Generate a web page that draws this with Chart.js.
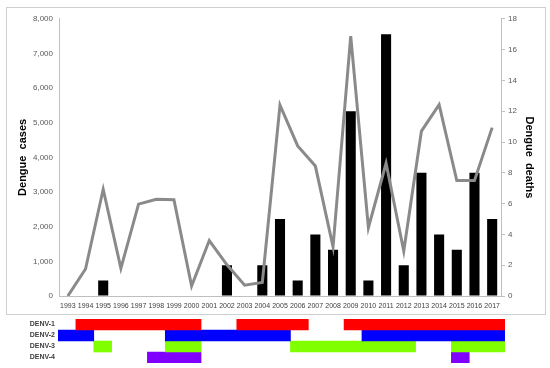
<!DOCTYPE html>
<html><head><meta charset="utf-8">
<script src="https://cdn.jsdelivr.net/npm/chart.js@4.4.0/dist/chart.umd.min.js"></script>
<style>
html,body{margin:0;padding:0;background:#fff;width:550px;height:368px;overflow:hidden;}
#frame{position:absolute;left:6px;top:7px;width:538px;height:306px;border:1px solid #d0d0d0;}
#c1{display:block;}
#wrap2{position:absolute;left:0;top:316px;width:550px;height:52px;}
#c2{display:block;}
</style></head><body>
<div id="frame"><canvas id="c1" width="538" height="306"></canvas></div>
<div id="wrap2"><canvas id="c2" width="550" height="52"></canvas></div>
<script>
const years = ['1993','1994','1995','1996','1997','1998','1999','2000','2001','2002','2003','2004','2005','2006','2007','2008','2009','2010','2011','2012','2013','2014','2015','2016','2017'];
const dengueCases = [0,780,3080,800,2650,2790,2780,290,1600,900,310,390,5510,4330,3750,1420,7500,1970,3830,1300,4760,5520,3330,3330,4860];
const dengueDeaths = [0,0,1,0,0,0,0,0,0,2,0,2,5,1,4,3,12,1,17,2,8,4,3,8,5];
const casesTicks = [0,1000,2000,3000,4000,5000,6000,7000,8000];
const deathsTicks = [0,2,4,6,8,10,12,14,16,18];

const serotypes = ['DENV-1','DENV-2','DENV-3','DENV-4'];
const denv1Periods = [[1994,2000],[2003,2006],[2009,2017]];
const denv2Periods = [[1993,1994],[1999,2005],[2010,2017]];
const denv3Periods = [[1995,1995],[1999,2000],[2006,2012],[2015,2017]];
const denv4Periods = [[1998,2000],[2015,2015]];
const firstYear = 1993, lastYear = 2017;

const FONT = 'Liberation Sans, Arial, sans-serif';

new Chart(document.getElementById('c1'), {
  data: {
    labels: years,
    datasets: [
      {type:'line', label:'Dengue cases', data: dengueCases, yAxisID:'yCases',
       borderColor:'#8a8a8a', borderWidth:3, pointRadius:0, tension:0, order:0},
      {type:'bar', label:'Dengue deaths', data: dengueDeaths, yAxisID:'yDeaths',
       backgroundColor:'#000000', barPercentage:0.57, categoryPercentage:1, order:1}
    ]
  },
  options: {
    responsive:false, animation:false,
    layout:{padding:{top:9,bottom:0,left:0,right:0}},
    plugins:{legend:{display:false}, tooltip:{enabled:false}},
    scales:{
      x:{
        grid:{display:false, drawTicks:false},
        border:{display:true,color:'#bfbfbf',width:1},
        ticks:{font:{family:FONT,size:7}, color:'#404040', maxRotation:0, minRotation:0, autoSkip:false, padding:6},
        afterFit(s){ s.height = 18; }
      },
      yCases:{
        position:'left', min:0, max:8000,
        afterBuildTicks(s){ s.ticks = casesTicks.map(v=>({value:v})); },
        ticks:{callback:v=>v.toLocaleString('en-US'), font:{family:FONT,size:8}, color:'#595959', padding:6},
        grid:{drawOnChartArea:false, drawTicks:false},
        border:{display:true,color:'#bfbfbf'},
        title:{display:true, text:'Dengue  cases', font:{family:FONT,size:11,weight:'bold'}, color:'#000', padding:{top:9,bottom:0}},
        afterFit(s){ s.width = 52; }
      },
      yDeaths:{
        position:'right', min:0, max:18,
        afterBuildTicks(s){ s.ticks = deathsTicks.map(v=>({value:v})); },
        ticks:{font:{family:FONT,size:8}, color:'#595959', padding:3},
        grid:{drawOnChartArea:false, drawTicks:true, tickLength:4, color:'#bfbfbf'},
        border:{display:true,color:'#bfbfbf'},
        title:{display:true, text:'Dengue  deaths', font:{family:FONT,size:11,weight:'bold'}, color:'#000', padding:{top:9,bottom:0}},
        afterFit(s){ s.width = 44; }
      }
    }
  }
});

function toBars(label, periods){ return periods.map(p => ({y:label, x:[p[0], p[1]+1]})); }

new Chart(document.getElementById('c2'), {
  type:'bar',
  data:{
    labels: serotypes,
    datasets:[
      {label:'DENV-1', data: toBars('DENV-1', denv1Periods), backgroundColor:'#ff0000'},
      {label:'DENV-2', data: toBars('DENV-2', denv2Periods), backgroundColor:'#0000ff'},
      {label:'DENV-3', data: toBars('DENV-3', denv3Periods), backgroundColor:'#80ff00'},
      {label:'DENV-4', data: toBars('DENV-4', denv4Periods), backgroundColor:'#8000ff'}
    ]
  },
  options:{
    indexAxis:'y', responsive:false, animation:false,
    layout:{padding:{top:3,bottom:5,left:0,right:45}},
    plugins:{legend:{display:false}, tooltip:{enabled:false}},
    datasets:{bar:{grouped:false, categoryPercentage:1, barPercentage:1, borderWidth:0}},
    scales:{
      x:{type:'linear', min:firstYear, max:lastYear+1, display:false},
      y:{type:'category', grid:{display:false, drawTicks:false}, border:{display:false},
         ticks:{font:{family:FONT,size:7,weight:'bold'}, color:'#404040', padding:3, autoSkip:false},
         afterFit(s){ s.width = 58; s.paddingTop = 0; s.paddingBottom = 0; }}
    }
  }
});
</script>
</body></html>
